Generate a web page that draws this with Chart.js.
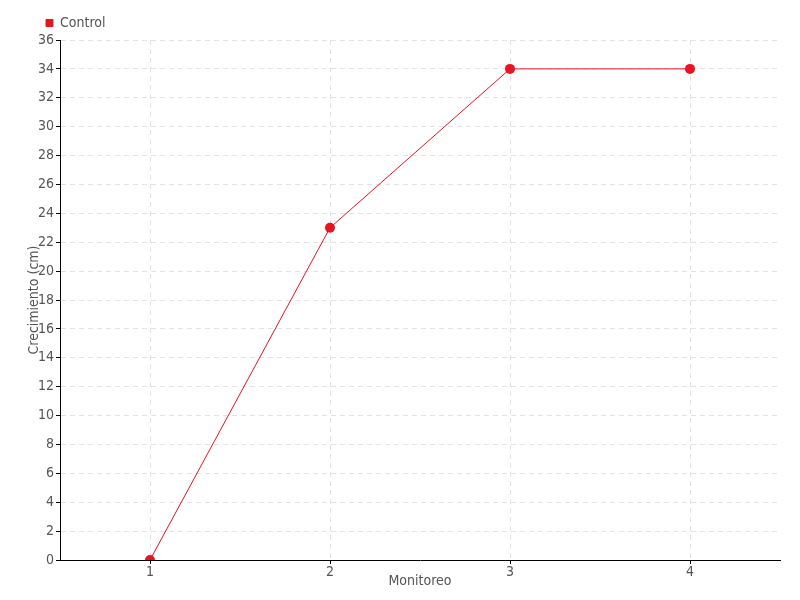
<!DOCTYPE html>
<html>
<head>
<meta charset="utf-8">
<script src="https://cdn.jsdelivr.net/npm/chart.js@4/dist/chart.umd.min.js"></script>
<style>
html,body{margin:0;padding:0;background:#fff;}
#wrap{width:800px;height:600px;}
</style>
</head>
<body>
<div id="wrap"><canvas id="c" width="800" height="600"></canvas></div>
<script>
const categories = ['1', '2', '3', '4'];
const seriesName = 'Control';
const controlValues = [0, 23, 34, 34];
const yTicks = {min: 0, max: 36, step: 2};
const xTitle = 'Monitoreo';
const yTitle = 'Crecimiento (cm)';

const FONT = "'Liberation Sans Narrow', 'DejaVu Sans Condensed', 'Roboto Condensed', sans-serif";
const TEXT = '#555555';
const RED = '#e8141f';

const shiftLegend = {
  id: 'shiftLegend',
  afterLayout(chart) {
    if (chart.legend) { chart.legend.left = 36; }
  }
};

new Chart(document.getElementById('c'), {
  type: 'line',
  data: {
    labels: categories,
    datasets: [{
      label: seriesName,
      data: controlValues,
      borderColor: RED,
      backgroundColor: RED,
      borderWidth: 1,
      pointRadius: 5,
      pointHoverRadius: 5,
      pointBackgroundColor: RED,
      pointBorderColor: RED,
      pointBorderWidth: 0,
      tension: 0,
      fill: false
    }]
  },
  options: {
    responsive: false,
    animation: false,
    devicePixelRatio: 1,
    layout: {padding: {top: 6, left: 0, right: 20, bottom: 0}},
    plugins: {
      legend: {
        display: true,
        position: 'top',
        align: 'start',
        labels: {
          boxWidth: 7,
          boxHeight: 7,
          color: TEXT,
          font: {family: FONT, size: 14},
          padding: 10
        }
      },
      tooltip: {enabled: false}
    },
    scales: {
      x: {
        type: 'category',
        offset: true,
        grid: {
          display: true,
          color: '#e2e2e2',
          tickColor: '#000',
          tickLength: 4,
          offset: false
        },
        border: {display: true, color: '#000', width: 1, dash: [5, 4]},
        ticks: {color: TEXT, font: {family: FONT, size: 14}, padding: 0, maxRotation: 0},
        title: {display: true, text: xTitle, color: TEXT, font: {family: FONT, size: 14}, padding: {top: 0, bottom: 10}},
        afterFit(s) { s.height = 40; }
      },
      y: {
        min: yTicks.min,
        max: yTicks.max,
        grid: {
          display: true,
          color: '#e2e2e2',
          tickColor: '#000',
          tickLength: 4
        },
        border: {display: true, color: '#000', width: 1, dash: [5, 4]},
        ticks: {stepSize: yTicks.step, color: TEXT, font: {family: FONT, size: 14}, padding: 2},
        title: {display: true, text: yTitle, color: TEXT, font: {family: FONT, size: 14}, padding: {top: 26, bottom: 0}},
        afterFit(s) { s.width = 60; }
      }
    }
  },
  plugins: [shiftLegend]
});
</script>
</body>
</html>
